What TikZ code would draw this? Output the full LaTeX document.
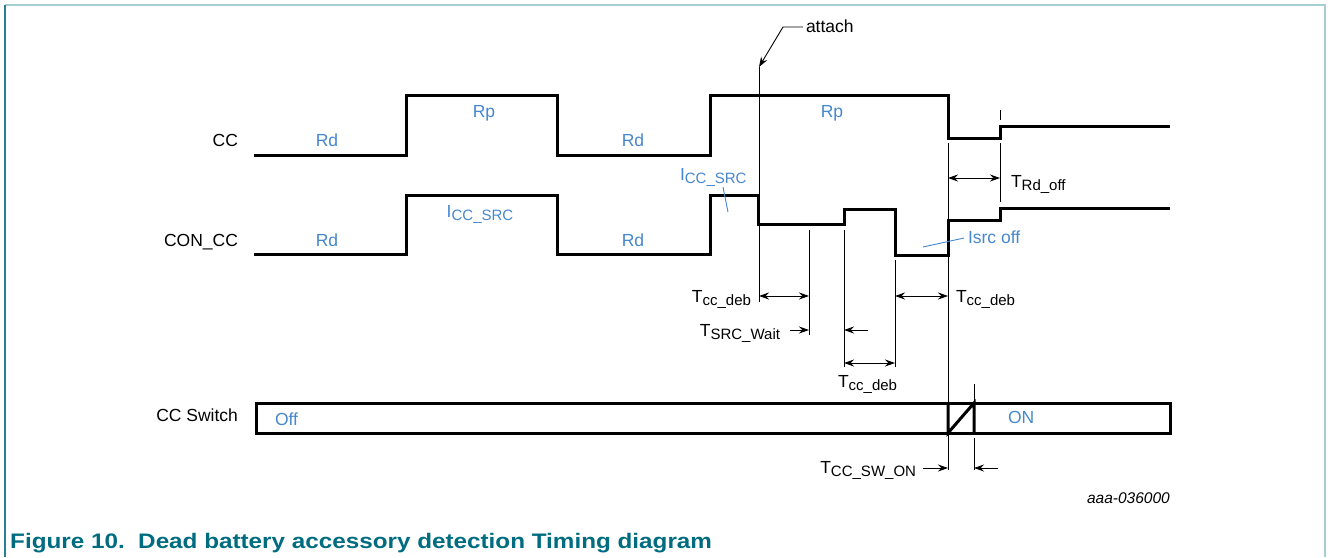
\documentclass[tikz,border=0pt]{standalone}
\usepackage{fontspec}
\setmainfont{Liberation Sans}
\newfontfamily\capfont[FakeStretch=1.155]{Liberation Sans}
\usetikzlibrary{arrows.meta}
\definecolor{lblue}{RGB}{70,135,205}
\definecolor{framec}{RGB}{165,205,212}
\definecolor{framel}{RGB}{40,128,145}
\definecolor{capteal}{RGB}{0,108,128}
\newcommand{\sbx}[1]{\raisebox{-0.2em}{\fontsize{15}{15}\selectfont #1}}
\tikzset{
  wave/.style={line width=3pt, line join=miter},
  thinl/.style={line width=0.9pt},
  arr/.style={thinl, -{Stealth[length=10pt,width=7pt]}},
  dimarr/.style={thinl, {Stealth[length=10pt,width=7pt]}-{Stealth[length=10pt,width=7pt]}},
  lbl/.style={font=\fontsize{17.5}{20}\selectfont, inner sep=0pt, outer sep=0pt},
  blbl/.style={lbl, text=lblue},
}
\begin{document}
\begin{tikzpicture}[x=1pt,y=-1pt]
\useasboundingbox (0,0) rectangle (1328,557);
% frame
\draw[framec, line width=1.5pt] (5,5) -- (1325,5) -- (1325,557);
\draw[framel, line width=1.5pt] (5,5) -- (5,557);

% thin guide lines
\coordinate (atop) at (759,67);
\draw[thinl] (atop) -- (759,302);
\draw[thinl] (809,230) -- (809,335);
\draw[thinl] (844,230) -- (844,367);
\draw[thinl] (895,260) -- (895,367);
\draw[thinl] (948,143) -- (948,470);
\draw[thinl] (1000,110) -- (1000,120);
\draw[thinl] (1000,143) -- (1000,202);
\draw[thinl] (974,384) -- (974,403);
\draw[thinl] (974,438) -- (974,470);

% waveforms
\draw[wave] (254,155) -- (406,155) -- (406,95) -- (557,95) -- (557,155) -- (710,155) -- (710,95) -- (948,95) -- (948,138) -- (1000,138) -- (1000,126) -- (1170,126);
\draw[wave] (254,254) -- (406,254) -- (406,195) -- (557,195) -- (557,254) -- (710,254) -- (710,195) -- (758,195) -- (758,224) -- (844,224) -- (844,209) -- (895,209) -- (895,255) -- (948,255) -- (948,220) -- (1000,220) -- (1000,208) -- (1170,208);

% CC switch
\draw[wave] (256,403) rectangle (1170,433);
\draw[wave] (948,403) -- (948,433) -- (974,403) -- (974,433);

% signal names
\node[lbl, anchor=base east] (ncc) at (238,146) {CC};
\node[lbl, anchor=base east] (nconcc) at (238,246) {CON\_CC};
\node[lbl, anchor=base east] (nsw) at (238,421) {CC Switch};

% blue labels
\node[blbl, anchor=base] (rd1) at (327,146) {Rd};
\node[blbl, anchor=base] (rp1) at (484,117) {Rp};
\node[blbl, anchor=base] (rd2) at (633,146) {Rd};
\node[blbl, anchor=base] (rp2) at (832,117) {Rp};
\node[blbl, anchor=base] (rd3) at (327,246) {Rd};
\node[blbl, anchor=base] (icc1) at (480,217) {I\sbx{CC\_SRC}};
\node[blbl, anchor=base] (rd4) at (633,246) {Rd};
\node[blbl, anchor=base west] (icc2) at (680,180) {I\sbx{CC\_SRC}};
\node[blbl, anchor=base west] (isrc) at (968,243) {Isrc off};
\node[blbl, anchor=base west] (off) at (275,425) {Off};
\node[blbl, anchor=base west] (on) at (1008,423) {ON};
\coordinate (icc2a) at (723,187);
\coordinate (icc2b) at (728,212);
\draw[thinl, lblue] (icc2a) -- (icc2b);
\coordinate (isrca) at (923,247);
\coordinate (isrcb) at (964,238);
\draw[thinl, lblue] (isrca) -- (isrcb);

% attach
\node[lbl, anchor=base west] (attach) at (806,32) {attach};
\coordinate (atA) at (803,27);
\coordinate (atB) at (783,27);
\draw[arr] (atA) -- (atB) -- (atop);

% timing dimensions
\coordinate (d1a) at (759,296); \coordinate (d1b) at (809,296);
\draw[dimarr] (d1a) -- (d1b);
\node[lbl, anchor=base east] (tdeb1) at (751,302) {T\sbx{cc\_deb}};

\coordinate (d2a) at (790,330); \coordinate (d2b) at (809,330);
\draw[arr] (d2a) -- (d2b);
\node[lbl, anchor=base east] (tsrc) at (780,336) {T\sbx{SRC\_Wait}};

\coordinate (d3a) at (868,330); \coordinate (d3b) at (844,330);
\draw[arr] (d3a) -- (d3b);

\coordinate (d4a) at (844,363); \coordinate (d4b) at (895,363);
\draw[dimarr] (d4a) -- (d4b);
\node[lbl, anchor=base west] (tdeb3) at (838,387) {T\sbx{cc\_deb}};

\coordinate (d5a) at (895,296); \coordinate (d5b) at (948,296);
\draw[dimarr] (d5a) -- (d5b);
\node[lbl, anchor=base west] (tdeb2) at (956,302) {T\sbx{cc\_deb}};

\coordinate (d6a) at (948,178); \coordinate (d6b) at (1000,178);
\draw[dimarr] (d6a) -- (d6b);
\node[lbl, anchor=base west] (trd) at (1011,187) {T\sbx{Rd\_off}};

\coordinate (d7a) at (923,468); \coordinate (d7b) at (948,468);
\draw[arr] (d7a) -- (d7b);
\coordinate (d8a) at (998,468); \coordinate (d8b) at (974,468);
\draw[arr] (d8a) -- (d8b);
\node[lbl, anchor=base east] (tsw) at (916,473) {T\sbx{CC\_SW\_ON}};

% reference id and caption
\node[inner sep=0pt, anchor=base east, font=\fontsize{15.5}{18}\selectfont\itshape] (ref) at (1170,503) {aaa-036000};
\node[inner sep=0pt, anchor=base west, font=\capfont\fontsize{21}{24}\selectfont\bfseries, text=capteal] (cap) at (10,548) {Figure 10.\ \ Dead battery accessory detection Timing diagram};
\end{tikzpicture}
\end{document}
